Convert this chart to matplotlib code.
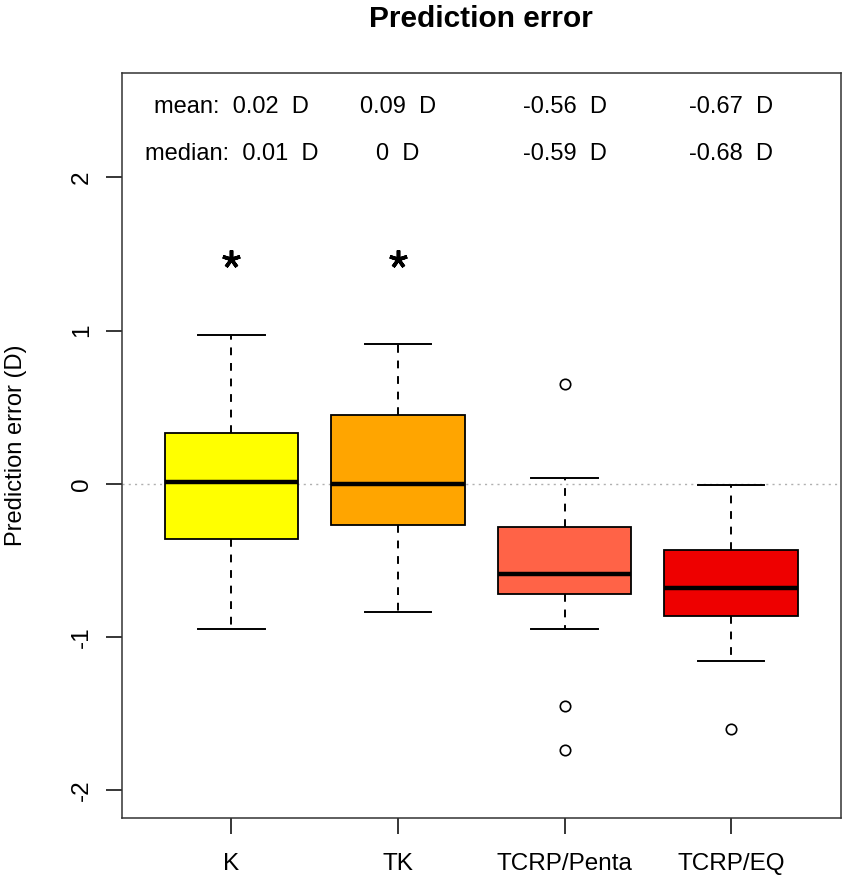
import matplotlib
matplotlib.use("Agg")
import matplotlib.pyplot as plt

# ---- data ----
categories = ["K", "TK", "TCRP/Penta", "TCRP/EQ"]
q1 = [-0.36, -0.27, -0.72, -0.86]
medians = [0.01, 0.00, -0.59, -0.68]
q3 = [0.33, 0.45, -0.28, -0.43]
whisker_low = [-0.95, -0.84, -0.95, -1.16]
whisker_high = [0.97, 0.91, 0.04, -0.01]
outliers = [[], [], [0.65, -1.45, -1.74], [-1.60]]
box_colors = ["#FFFF00", "#FFA500", "#FF6347", "#EE0000"]
mean_labels = ["0.02", "0.09", "-0.56", "-0.67"]
median_labels = ["0.01", "0", "-0.59", "-0.68"]
star_groups = [1, 2]
star_y = 1.47
yticks = [-2, -1, 0, 1, 2]

plt.rcParams["font.family"] = ["Liberation Sans", "DejaVu Sans"]

W, H = 847, 880
fig = plt.figure(figsize=(W / 100, H / 100), dpi=100)
L, R, T, B = 121.5, 841.0, 73.3, 817.7
ax = fig.add_axes([L / W, 1 - B / H, (R - L) / W, (B - T) / H])

stats = []
for i, c in enumerate(categories):
    stats.append(dict(label=c, q1=q1[i], med=medians[i], q3=q3[i],
                      whislo=whisker_low[i], whishi=whisker_high[i],
                      fliers=outliers[i]))

pos = list(range(1, len(categories) + 1))
ax.axhline(0, color="#b0b0b0", lw=1.0, ls=(0, (1.5, 3)), zorder=0)

res = ax.bxp(stats, positions=pos, widths=0.8, capwidths=0.4,
             patch_artist=True, showfliers=True,
             boxprops=dict(edgecolor="black", linewidth=1.3),
             medianprops=dict(color="black", linewidth=3.2, solid_capstyle="butt"),
             whiskerprops=dict(color="black", linewidth=1.4, linestyle=(0, (4, 4))),
             capprops=dict(color="black", linewidth=1.4),
             flierprops=dict(marker="o", markerfacecolor="none",
                             markeredgecolor="black", markersize=7.5,
                             markeredgewidth=1.2, linestyle="none"),
             zorder=2)
for patch, col in zip(res["boxes"], box_colors):
    patch.set_facecolor(col)

# significance asterisks
ax.plot(star_groups, [star_y] * len(star_groups), linestyle="none",
        marker=(5, 2, 0), markersize=13, markeredgewidth=2.6, color="black",
        zorder=3)

# mean / median annotations
for i, p in enumerate(pos):
    pre_m = "mean:  " if i == 0 else ""
    pre_d = "median:  " if i == 0 else ""
    ax.text(p, 2.42, f"{pre_m}{mean_labels[i]}  D", ha="center", va="baseline",
            fontsize=17)
    ax.text(p, 2.115, f"{pre_d}{median_labels[i]}  D", ha="center", va="baseline",
            fontsize=17)

ax.set_xlim(0.34, 4.66)
ax.set_ylim(-2.18, 2.68)
ax.set_xticks(pos)
ax.set_xticklabels(categories, fontsize=17.5)
ax.set_yticks(yticks)
ax.set_yticklabels([str(v) for v in yticks], fontsize=17.5, rotation=90, va="center")
ax.tick_params(axis="both", direction="out", length=11.5, width=1.1, color="black")
ax.tick_params(axis="x", pad=14)
ax.tick_params(axis="y", pad=9)
for s in ax.spines.values():
    s.set_linewidth(1.1)
    s.set_color("#333333")

fig.text(16 / W, 1 - 445.5 / H, "Prediction error (D)", rotation=90,
         ha="center", va="center", fontsize=17)
fig.text((L + R) / 2 / W, 1 - 27 / H, "Prediction error", ha="center",
         va="baseline", fontsize=21.5, fontweight="bold")

fig.savefig("out.png", dpi=100)
